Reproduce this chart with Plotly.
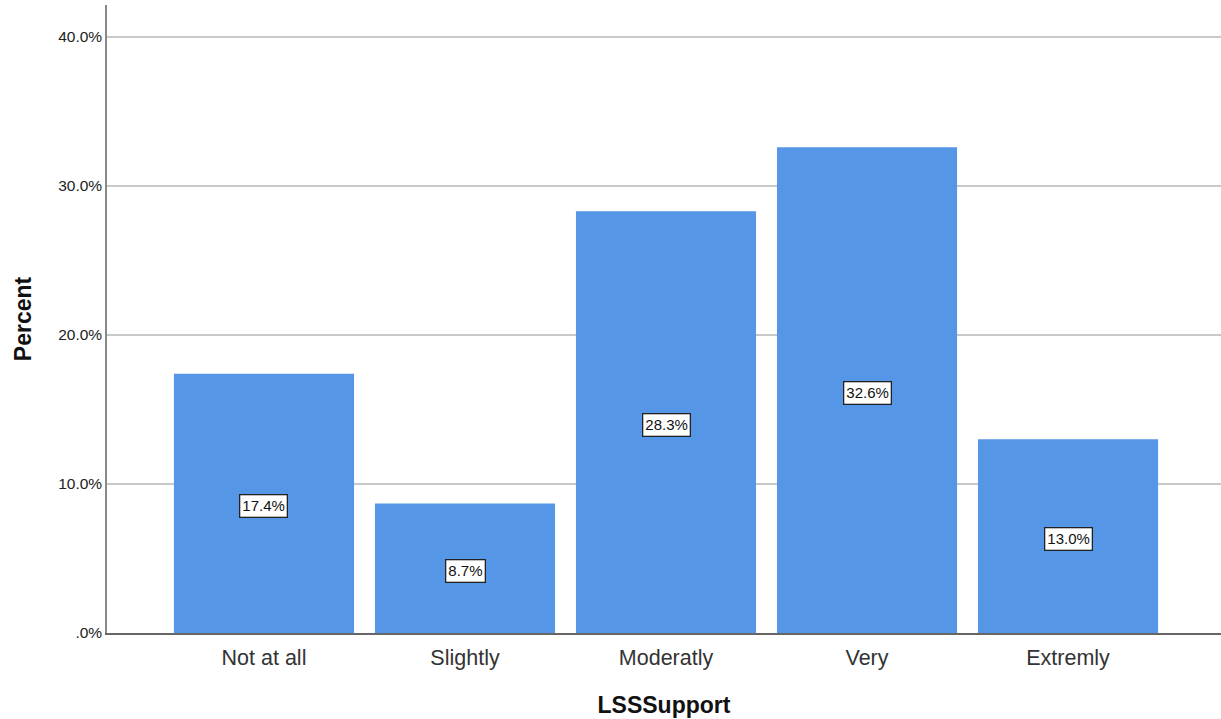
import plotly.graph_objects as go

categories = ["Not at all", "Slightly", "Moderatly", "Very", "Extremly"]
percents = [17.4, 8.7, 28.3, 32.6, 13.0]
y_tickvals = [0, 10, 20, 30, 40]
y_ticktext = [".0%", "10.0%", "20.0%", "30.0%", "40.0%"]

FONT = "Liberation Sans, Arial, sans-serif"

fig = go.Figure()
fig.add_trace(go.Bar(
    x=list(range(len(categories))),
    y=percents,
    marker=dict(color="#5596E6", line=dict(width=0)),
    hoverinfo="skip",
))

for i, v in enumerate(percents):
    fig.add_annotation(
        x=i, y=v / 2, xref="x", yref="y", yshift=-3,
        text=f"{v:.1f}%", showarrow=False,
        font=dict(family=FONT, size=15, color="#111"),
        bgcolor="white", bordercolor="#222", borderwidth=1.3, borderpad=2,
    )

fig.update_layout(
    width=1221, height=719,
    margin=dict(l=107, r=0, t=5, b=86),
    paper_bgcolor="white", plot_bgcolor="white",
    bargap=0.104,
    showlegend=False,
    font=dict(family=FONT, color="#222"),
)

fig.update_xaxes(
    range=[-0.781, 4.761],
    tickvals=list(range(len(categories))),
    ticktext=categories,
    tickfont=dict(family=FONT, size=21.5, color="#333"),
    showgrid=False, zeroline=False,
    showline=True, linecolor="#666", linewidth=1.5,
    ticks="", ticklen=0, automargin=False, ticklabelstandoff=4,
    title=dict(text="<b>LSSSupport</b>", font=dict(family=FONT, size=23, color="#111"), standoff=28),
)

fig.update_yaxes(
    range=[0, 42.15],
    tickvals=y_tickvals,
    ticktext=y_ticktext,
    tickfont=dict(family=FONT, size=15.5, color="#222"),
    showgrid=True, gridcolor="#C8C8C8", gridwidth=1.5,
    zeroline=False,
    showline=True, linecolor="#888", linewidth=1.5,
    ticks="", ticklen=0, automargin=False,
    title=dict(text="<b>Percent</b>", font=dict(family=FONT, size=23, color="#111"), standoff=20),
)

fig.write_html(
    "out.html",
    config={"displayModeBar": False},
    post_script="document.body.style.margin='0';document.body.style.overflow='hidden';",
)
